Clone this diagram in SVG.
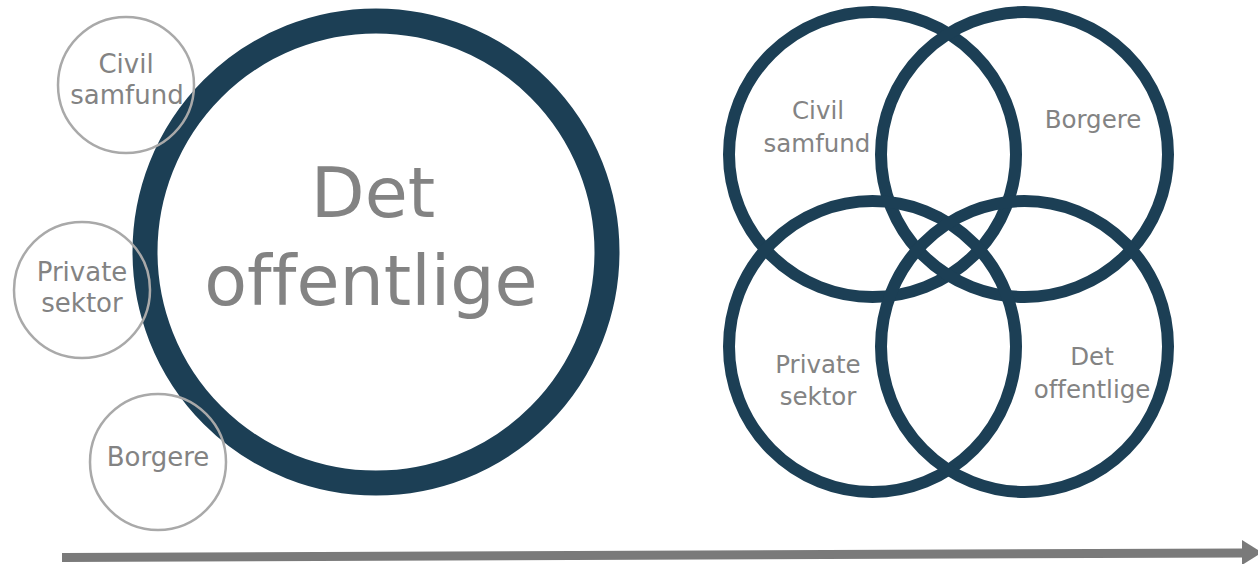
<svg xmlns="http://www.w3.org/2000/svg" width="1258" height="564" viewBox="0 0 1258 564">
<style>
.ring{fill:none;stroke:#1c3f55}
.small{fill:none;stroke:#a9a9a9;stroke-width:2.5}
.t{font-family:"DejaVu Sans","Liberation Sans",sans-serif;fill:#838383;text-anchor:middle;font-variant-ligatures:none}
.s{font-size:26px}
.v{font-size:24.5px}
.big{font-size:70px}
</style>
<rect width="1258" height="564" fill="#ffffff"/>
<g id="det-offentlige-big">
<circle class="ring" cx="376" cy="252" r="231" stroke-width="25"/>
<text class="t big" x="373" y="217">Det</text>
<text class="t big" x="371" y="305">offentlige</text>
</g>
<g id="civil-samfund-small">
<circle class="small" cx="126" cy="85" r="68"/>
<text class="t s" x="126" y="73">Civil</text>
<text class="t s" x="127" y="104">samfund</text>
</g>
<g id="private-sektor-small">
<circle class="small" cx="82" cy="290" r="68"/>
<text class="t s" x="82" y="281">Private</text>
<text class="t s" x="82" y="312">sektor</text>
</g>
<g id="borgere-small">
<circle class="small" cx="158" cy="462" r="68"/>
<text class="t s" x="158" y="466">Borgere</text>
</g>
<g id="venn-civil-samfund">
<ellipse class="ring" cx="872.5" cy="154.5" rx="143.5" ry="142.5" stroke-width="12"/>
<text class="t v" x="818" y="119">Civil</text>
<text class="t v" x="817" y="152">samfund</text>
</g>
<g id="venn-borgere">
<ellipse class="ring" cx="1024.5" cy="154.5" rx="143.5" ry="142.5" stroke-width="12"/>
<text class="t v" x="1093" y="128">Borgere</text>
</g>
<g id="venn-private-sektor">
<ellipse class="ring" cx="872.5" cy="346.5" rx="143.5" ry="145.5" stroke-width="12"/>
<text class="t v" x="818" y="373">Private</text>
<text class="t v" x="818" y="405">sektor</text>
</g>
<g id="venn-det-offentlige">
<ellipse class="ring" cx="1024.5" cy="346.5" rx="143.5" ry="145.5" stroke-width="12"/>
<text class="t v" x="1092" y="365">Det</text>
<text class="t v" x="1092" y="398">offentlige</text>
</g>
<g id="connectors">
<line x1="62" y1="557.5" x2="1244" y2="553" stroke="#7a7a7a" stroke-width="9"/>
<polygon points="1242,540 1262,552.5 1242,565" fill="#7a7a7a"/>
</g>
</svg>
